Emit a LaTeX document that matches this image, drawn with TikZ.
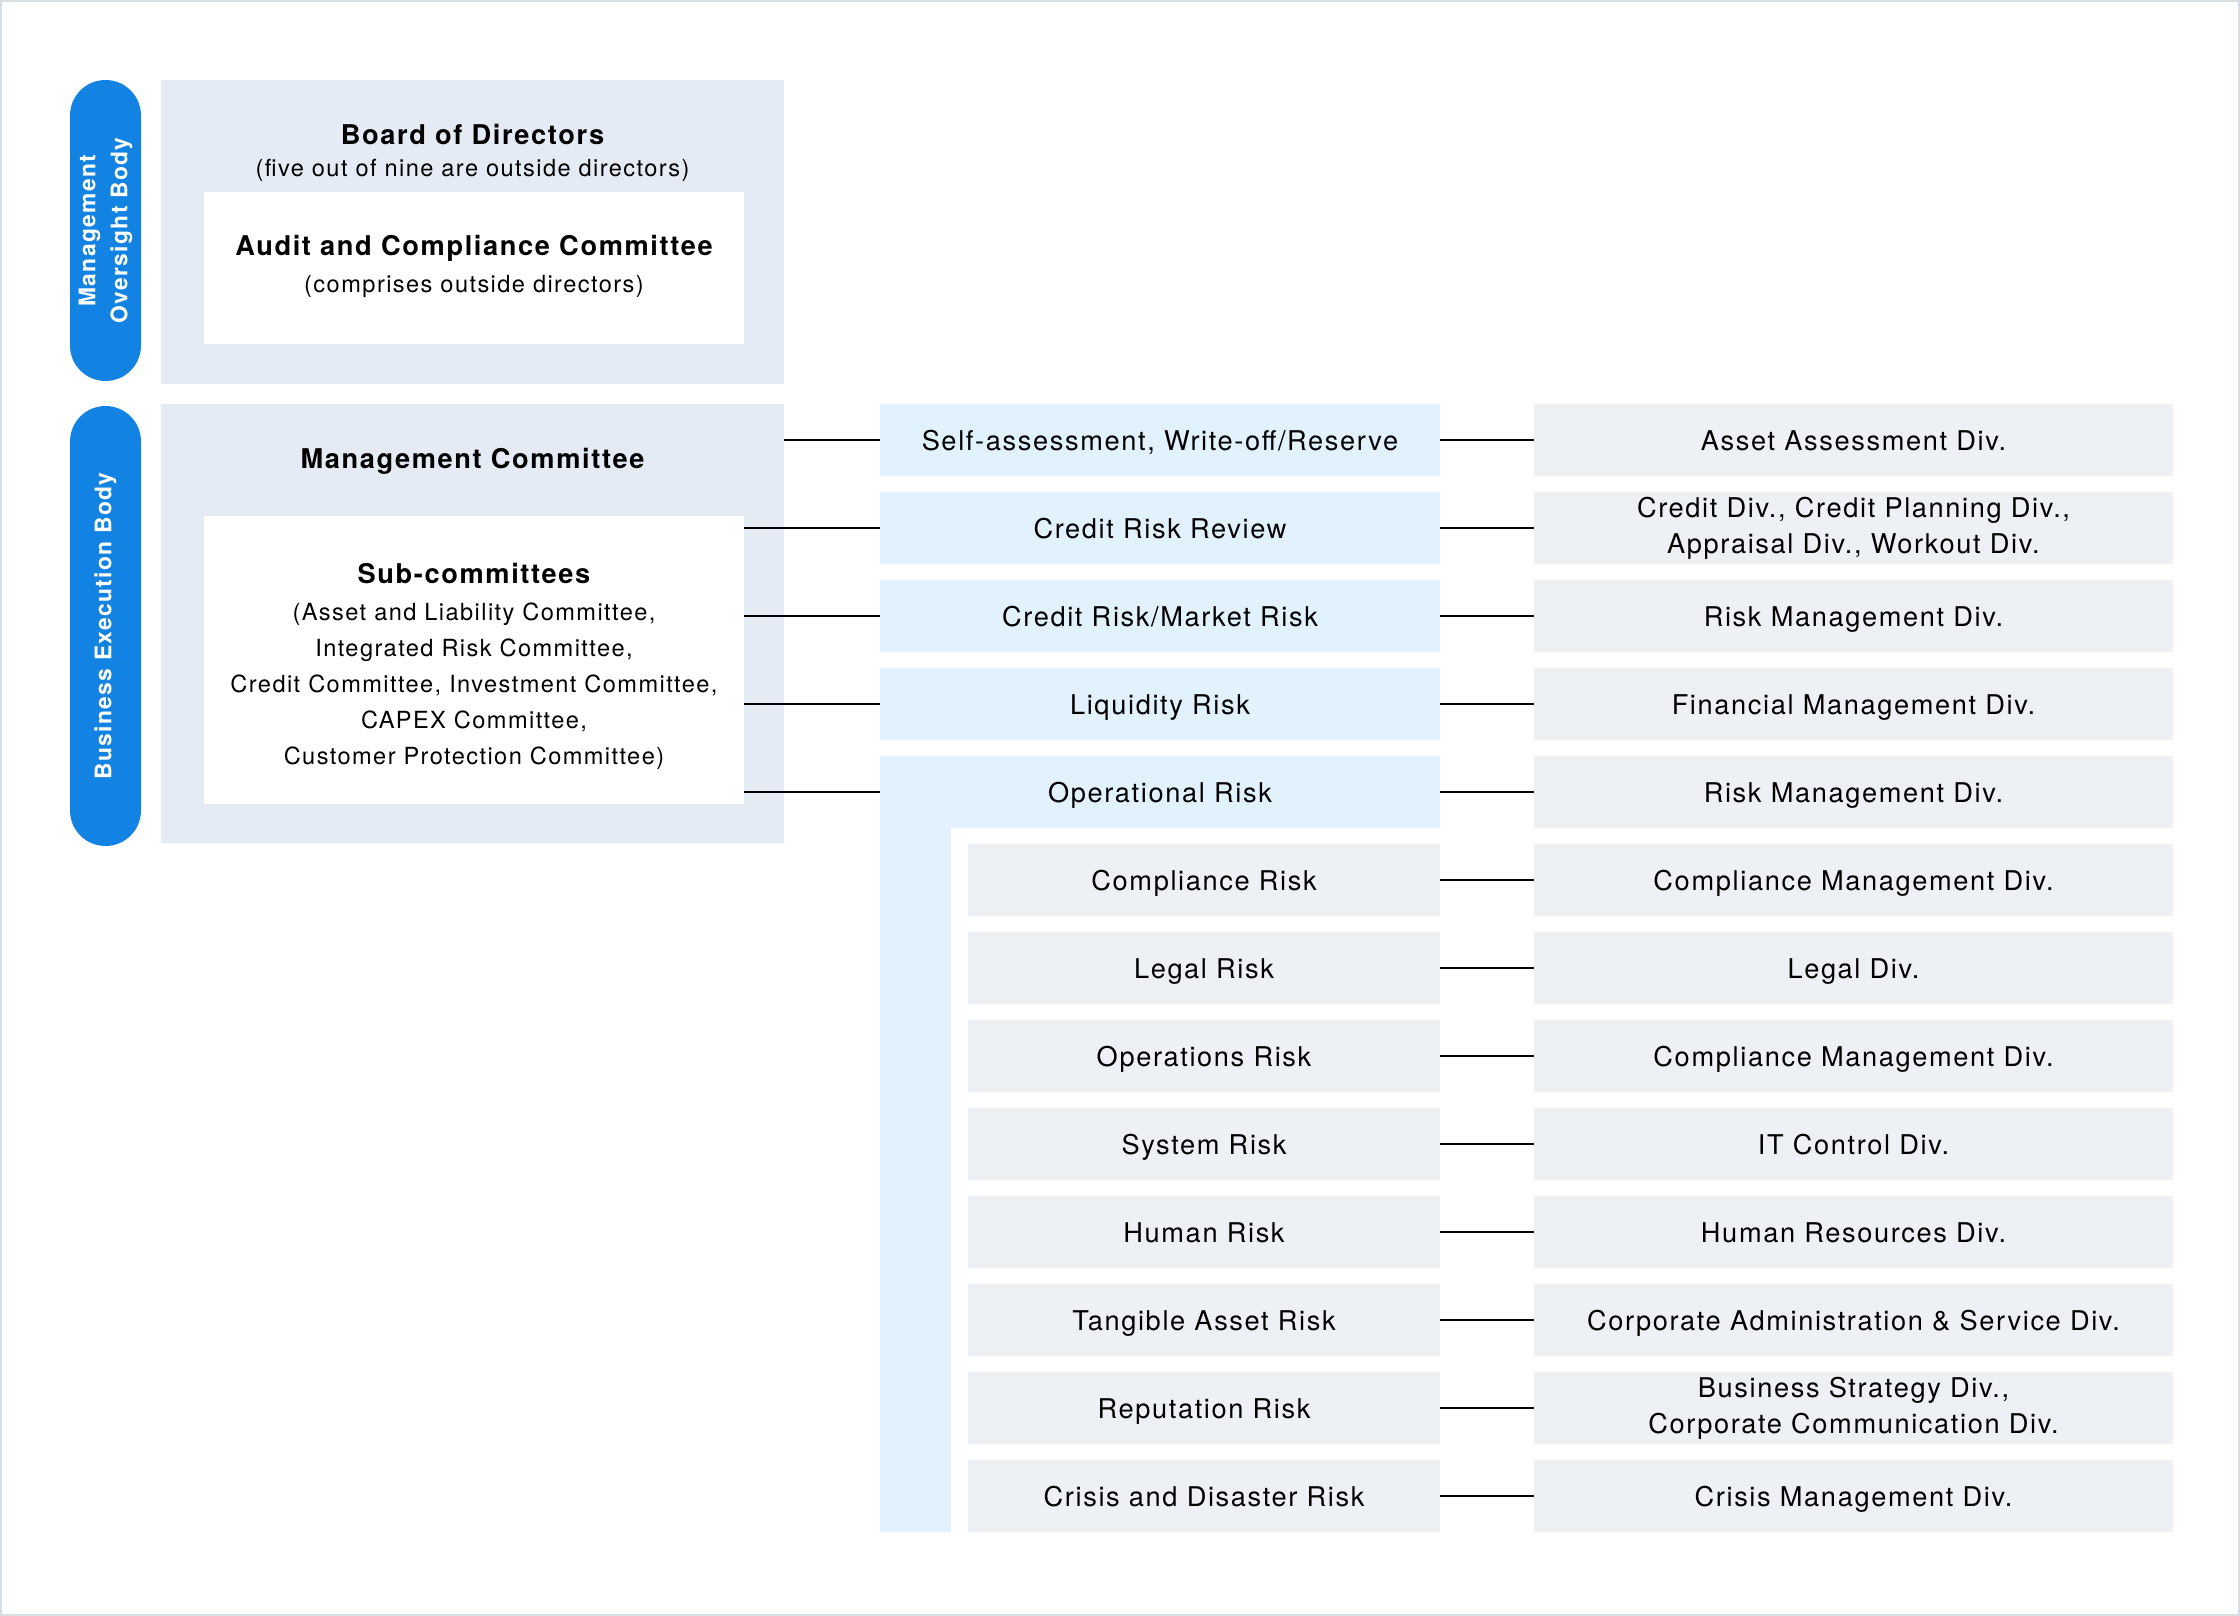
\documentclass[tikz,border=0pt]{standalone}
\usepackage{fontspec}
\setmainfont[LetterSpace=6]{TeX Gyre Heros}
\definecolor{framegray}{HTML}{D5DDE5}
\definecolor{bodyblue}{HTML}{E4EBF5}
\definecolor{riskblue}{HTML}{E1F2FD}
\definecolor{divgray}{HTML}{EDF1F5}
\definecolor{pillblue}{HTML}{1383E3}
\newcommand{\pix}{0.5pt}
\newcommand{\titlefont}{\fontsize{13.6}{18}\selectfont}
\newcommand{\notefont}{\fontsize{11.8}{18}\selectfont}
\tikzset{
  bodybox/.style={fill=bodyblue, inner sep=0pt},
  whitebox/.style={fill=white, inner sep=0pt},
  pill/.style={fill=pillblue, text=white, inner sep=0pt, rotate=90, rounded corners=35.5*\pix,
    minimum height=71*\pix, align=center, font=\fontsize{11.4}{16}\selectfont\bfseries},
  oneline/.style={text height=1em, text depth=0pt},
  riskbox/.style={fill=riskblue, inner sep=0pt, minimum width=560*\pix, minimum height=72*\pix,
    oneline, font=\titlefont},
  subbox/.style={fill=divgray, inner sep=0pt, minimum width=472*\pix, minimum height=72*\pix,
    oneline, font=\titlefont},
  divbox/.style={fill=divgray, inner sep=0pt, minimum width=639*\pix, minimum height=72*\pix,
    align=center, font=\titlefont},
  link/.style={line width=1pt, black}
}
\begin{document}
\begin{tikzpicture}[x=0.5pt,y=-0.5pt]
\useasboundingbox (0,0) rectangle (2240,1616);
\draw[framegray, line width=1pt] (1,1) rectangle (2239,1615);
%oversight
\node[pill, minimum width=301*\pix] (oversight) at (105.5,230.5) {Management\\Oversight Body};
\node[bodybox, minimum width=623*\pix, minimum height=304*\pix] (board) at (472.5,232) {};
\node[font=\titlefont\bfseries] (boardtitle) at (472.5,134.5) {Board of Directors};
\node[font=\notefont] (boardnote) at (472.5,170.5) {(five out of nine are outside directors)};
\node[whitebox, minimum width=540*\pix, minimum height=152*\pix] (audit) at (474,268) {};
\node[font=\titlefont\bfseries] (audittitle) at (474,248.5) {Audit and Compliance Committee};
\node[font=\notefont] (auditnote) at (474,286.5) {(comprises outside directors)};
%execution
\node[pill, minimum width=440*\pix] (execution) at (105.5,626) {Business Execution Body};
\node[bodybox, minimum width=623*\pix, minimum height=439*\pix] (mgmt) at (472.5,623.5) {};
\node[font=\titlefont\bfseries] (mgmttitle) at (472.5,461.5) {Management Committee};
\node[whitebox, minimum width=540*\pix, minimum height=288*\pix] (subc) at (474,660) {};
\node[font=\titlefont\bfseries] (subctitle) at (474,574) {Sub-committees};
\node[font=\notefont, align=center] (subcnote) at (474,686) {(Asset and Liability Committee,\\Integrated Risk Committee,\\Credit Committee, Investment Committee,\\CAPEX Committee,\\Customer Protection Committee)};
%risk categories
\fill[riskblue] (880,820) rectangle (951,1532);
\node[riskbox] (selfas) at (1160,440) {Self-assessment, Write-off/Reserve};
\node[riskbox] (crrev) at (1160,528) {Credit Risk Review};
\node[riskbox] (crmkt) at (1160,616) {Credit Risk/Market Risk};
\node[riskbox] (liq) at (1160,704) {Liquidity Risk};
\node[riskbox] (oper) at (1160,792) {Operational Risk};
\node[subbox] (compl) at (1204,880) {Compliance Risk};
\node[subbox] (legal) at (1204,968) {Legal Risk};
\node[subbox] (opsr) at (1204,1056) {Operations Risk};
\node[subbox] (sysr) at (1204,1144) {System Risk};
\node[subbox] (human) at (1204,1232) {Human Risk};
\node[subbox] (tangible) at (1204,1320) {Tangible Asset Risk};
\node[subbox] (reput) at (1204,1408) {Reputation Risk};
\node[subbox] (crisis) at (1204,1496) {Crisis and Disaster Risk};
%divisions
\node[divbox, oneline] (assetdiv) at (1853.5,440) {Asset Assessment Div.};
\node[divbox] (creditdiv) at (1853.5,528) {Credit Div., Credit Planning Div.,\\Appraisal Div., Workout Div.};
\node[divbox, oneline] (riskdiv) at (1853.5,616) {Risk Management Div.};
\node[divbox, oneline] (findiv) at (1853.5,704) {Financial Management Div.};
\node[divbox, oneline] (riskdivb) at (1853.5,792) {Risk Management Div.};
\node[divbox, oneline] (compldiv) at (1853.5,880) {Compliance Management Div.};
\node[divbox, oneline] (legaldiv) at (1853.5,968) {Legal Div.};
\node[divbox, oneline] (compldivb) at (1853.5,1056) {Compliance Management Div.};
\node[divbox, oneline] (itdiv) at (1853.5,1144) {IT Control Div.};
\node[divbox, oneline] (hrdiv) at (1853.5,1232) {Human Resources Div.};
\node[divbox, oneline] (corpdiv) at (1853.5,1320) {Corporate Administration \& Service Div.};
\node[divbox] (commdiv) at (1853.5,1408) {Business Strategy Div.,\\Corporate Communication Div.};
\node[divbox, oneline] (crisisdiv) at (1853.5,1496) {Crisis Management Div.};
%left links
\draw[link] (mgmt.east |- selfas.west) -- (selfas.west);
\draw[link] (subc.east |- crrev.west) -- (crrev.west);
\draw[link] (subc.east |- crmkt.west) -- (crmkt.west);
\draw[link] (subc.east |- liq.west) -- (liq.west);
\draw[link] (subc.east |- oper.west) -- (oper.west);
%right links
\draw[link] (selfas.east) -- (assetdiv.west);
\draw[link] (crrev.east) -- (creditdiv.west);
\draw[link] (crmkt.east) -- (riskdiv.west);
\draw[link] (liq.east) -- (findiv.west);
\draw[link] (oper.east) -- (riskdivb.west);
\draw[link] (compl.east) -- (compldiv.west);
\draw[link] (legal.east) -- (legaldiv.west);
\draw[link] (opsr.east) -- (compldivb.west);
\draw[link] (sysr.east) -- (itdiv.west);
\draw[link] (human.east) -- (hrdiv.west);
\draw[link] (tangible.east) -- (corpdiv.west);
\draw[link] (reput.east) -- (commdiv.west);
\draw[link] (crisis.east) -- (crisisdiv.west);
\end{tikzpicture}
\end{document}
